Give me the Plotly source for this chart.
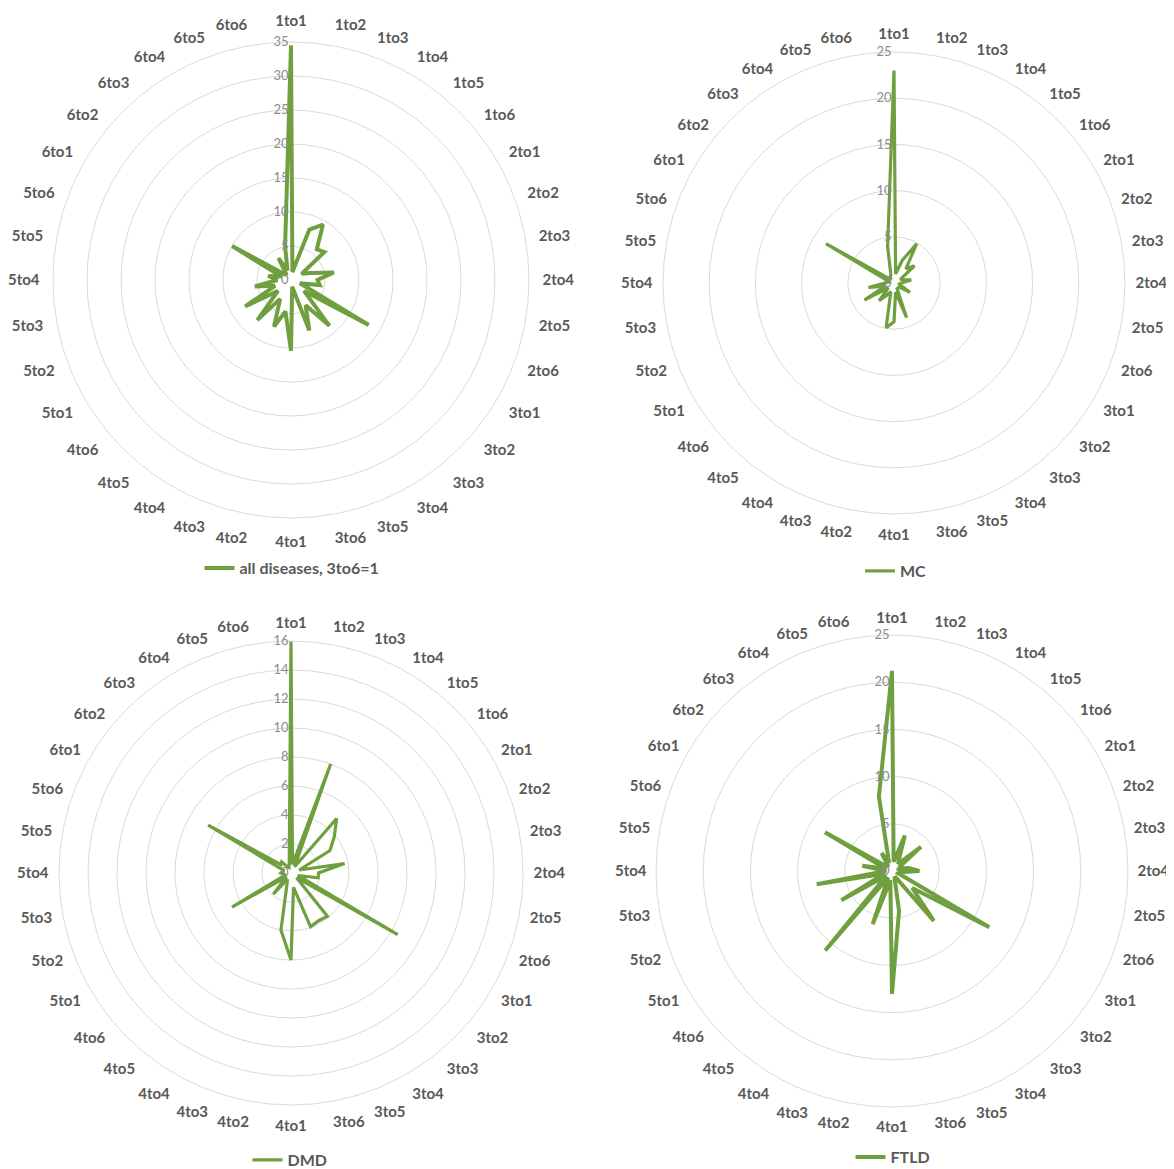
import plotly.graph_objects as go

categories = [f"{a}to{b}" for a in range(1, 7) for b in range(1, 7)]

all_diseases = [34.5, 1.2, 7.9, 9.4, 5.9, 6.4,
                1.8, 3.0, 6.4, 3.9, 4.3, 1.4,
                13.2, 2.5, 8.8, 4.3, 7.9, 1.0,
                10.4, 4.7, 7.3, 3.2, 7.7, 2.5,
                7.8, 2.5, 5.4, 2.0, 3.4, 1.5,
                10.0, 1.5, 1.0, 3.7, 1.5, 5.0]

mc = [23.0, 1.0, 2.6, 4.9, 2.0, 2.9,
      0.8, 1.0, 1.9, 0.8, 0.6, 0.8,
      2.0, 0.6, 0.8, 0.6, 4.0, 1.0,
      4.2, 4.9, 1.0, 1.5, 2.5, 0.8,
      3.7, 1.0, 2.8, 1.0, 0.6, 0.8,
      8.5, 0.8, 0.5, 0.8, 1.0, 4.0]

dmd = [16.0, 0.6, 8.0, 0.5, 4.9, 3.9,
       3.1, 0.6, 3.75, 1.9, 1.9, 0.5,
       8.5, 0.5, 3.9, 3.8, 3.95, 1.0,
       6.0, 4.0, 0.8, 0.5, 1.9, 0.4,
       4.7, 0.4, 0.5, 0.7, 0.6, 0.5,
       6.6, 0.9, 1.0, 0.5, 0.4, 0.7]

ftld = [21.2, 1.0, 4.0, 1.5, 1.0, 4.0,
        1.0, 0.8, 1.8, 2.9, 0.8, 0.7,
        11.9, 2.8, 6.9, 0.8, 0.8, 4.3,
        13.0, 1.0, 6.0, 0.8, 11.0, 0.8,
        6.2, 0.8, 8.1, 0.6, 3.2, 0.7,
        8.2, 0.8, 0.6, 2.2, 0.9, 8.0]

series_names = ["all diseases, 3to6=1", "MC", "DMD", "FTLD"]
series_values = [all_diseases, mc, dmd, ftld]
radial_max = [35, 25, 16, 25]
radial_step = [5, 5, 2, 5]

W, H = 1174, 1169
OFF = 8  # page body margin in the browser
# centers (px from top-left of the page) and radius
centers = [(291, 280, 238), (894, 283, 231), (291, 873, 232), (892, 871, 236)]
legend_pos = [(292, 568), (896, 571), (290, 1160), (893, 1157)]
line_widths = [4, 3.2, 3.2, 4]
label_pad = [10, 7, 7, 6]

GREEN = "#6f9f3f"
LABEL = "#595959"
TICK = "#8c8c8c"
GRID = "#d9d9d9"
FONT = "Lato, Open Sans, sans-serif"

fig = go.Figure()
polar_keys = ["polar", "polar2", "polar3", "polar4"]
legend_keys = ["legend", "legend2", "legend3", "legend4"]

for i, (name, vals) in enumerate(zip(series_names, series_values)):
    fig.add_trace(go.Scatterpolar(
        r=vals + [vals[0]],
        theta=categories + [categories[0]],
        mode="lines",
        line=dict(color=GREEN, width=line_widths[i]),
        name=name,
        subplot=polar_keys[i],
        legend=legend_keys[i],
        showlegend=True,
    ))

layout = dict(
    width=W, height=H,
    margin=dict(l=0, r=0, t=0, b=0),
    paper_bgcolor="white",
    plot_bgcolor="white",
    font=dict(family=FONT, color=LABEL),
)

for i, key in enumerate(polar_keys):
    cx, cy, R = centers[i]
    cx -= OFF
    cy -= OFF
    layout[key] = dict(
        domain=dict(x=[(cx - R) / W, (cx + R) / W],
                    y=[(H - cy - R) / H, (H - cy + R) / H]),
        bgcolor="white",
        radialaxis=dict(
            range=[0, radial_max[i]], tick0=0, dtick=radial_step[i],
            angle=90, showline=False, ticks="", gridcolor=GRID, gridwidth=1,
            tickfont=dict(color=TICK, size=13, family=FONT),
            side="counterclockwise", tickangle=90,
        ),
        angularaxis=dict(
            type="category", categoryorder="array", categoryarray=categories,
            rotation=90, direction="clockwise", showgrid=False,
            ticks="outside", ticklen=label_pad[i], tickcolor="rgba(0,0,0,0)",
            showline=True, linecolor=GRID, linewidth=1,
            tickfont=dict(color=LABEL, size=15, family=FONT, weight="bold"),
        ),
    )

for i, key in enumerate(legend_keys):
    lx, ly = legend_pos[i]
    layout[key] = dict(
        x=(lx - OFF) / W, y=1 - (ly - OFF) / H, xanchor="center", yanchor="middle",
        orientation="h", bgcolor="rgba(0,0,0,0)",
        font=dict(color=LABEL, size=16, family=FONT, weight="bold"),
        itemwidth=30,
    )

fig.update_layout(**layout)
fig.write_html("out.html")
